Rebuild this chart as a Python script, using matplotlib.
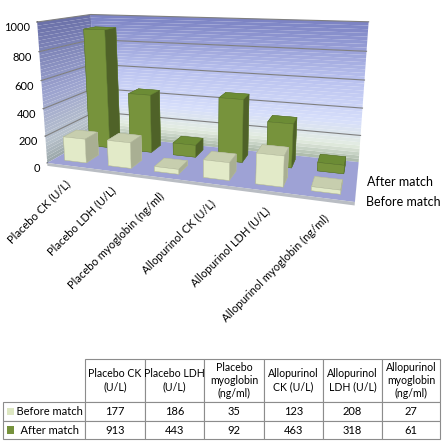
import numpy as np
import matplotlib.pyplot as plt
from matplotlib.colors import LinearSegmentedColormap
from mpl_toolkits.mplot3d.art3d import Poly3DCollection

plt.rcParams['font.family'] = ['Lato', 'DejaVu Sans']

# Data
categories = ["Placebo CK (U/L)", "Placebo LDH (U/L)", "Placebo myoglobin (ng/ml)",
              "Allopurinol CK (U/L)", "Allopurinol LDH (U/L)", "Allopurinol myoglobin (ng/ml)"]
table_headers = ["Placebo CK\n(U/L)", "Placebo LDH\n(U/L)", "Placebo\nmyoglobin\n(ng/ml)",
                 "Allopurinol\nCK (U/L)", "Allopurinol\nLDH (U/L)", "Allopurinol\nmyoglobin\n(ng/ml)"]
series_names = ["Before match", "After match"]
before_match = [177, 186, 35, 123, 208, 27]
after_match = [913, 443, 92, 463, 318, 61]
z_ticks = [0, 200, 400, 600, 800, 1000]

# face colours: bottom, top, front, back, left, right
before_faces = ['#C9D0B0', '#C7CEAE', '#E2EAC8', '#E2EAC8', '#E2EAC8', '#A9AF93']
after_faces = ['#5E7A2E', '#6C8C35', '#77933C', '#77933C', '#77933C', '#4F6228']
before_color = '#DDE7C2'
after_color = '#76923C'

fig = plt.figure(figsize=(4.45, 4.45), dpi=100)

# ---- 3D chart ----
ax = fig.add_axes([0.016, 0.377, 0.86, 0.8], projection='3d')
ax.set_proj_type('persp', focal_length=0.27)
ax.view_init(elev=13, azim=-72)
ax.computed_zorder = False

n = len(categories)
x0, x1 = -0.5, n - 0.5
y0, y1 = -0.5, 1.5
z0, z1 = 0, 1000
ax.set_xlim(x0, x1)
ax.set_ylim(y0, y1)
ax.set_zlim(z0, z1)
ax.set_box_aspect((3.0, 1.0, 1.42), zoom=0.96)

# hide default panes / grid / axis lines / tick marks
for a in (ax.xaxis, ax.yaxis, ax.zaxis):
    a.set_pane_color((1, 1, 1, 0))
    a.line.set_color((0, 0, 0, 0))
    a._axinfo['tick']['inward_factor'] = 0
    a._axinfo['tick']['outward_factor'] = 0
    a._axinfo['tick']['color'] = '#8C8C8C'
ax.zaxis._axinfo['tick']['outward_factor'] = 0.12
ax.grid(False)
ax.zaxis.set_ticks_position('lower')

# back wall and side wall with vertical gradient
wall_cmap = LinearSegmentedColormap.from_list(
    'wall', [(0.0, '#A9B8A8'), (0.12, '#E3ECE0'), (0.3, '#D6DEFB'),
             (0.6, '#B9C1EE'), (1.0, '#7B82C3')])
side_cmap = LinearSegmentedColormap.from_list(
    'side', [(0.0, '#9AA6A8'), (0.15, '#B8C2CC'), (0.5, '#9CA3CF'), (1.0, '#6A70A8')])
levels = np.linspace(z0, z1, 41)
back_polys, back_cols, side_polys, side_cols = [], [], [], []
for lo, hi in zip(levels[:-1], levels[1:]):
    t = (lo + hi) / 2 / z1
    back_polys.append([(x0, y1, lo), (x1, y1, lo), (x1, y1, hi), (x0, y1, hi)])
    back_cols.append(wall_cmap(t))
    side_polys.append([(x0, y0, lo), (x0, y1, lo), (x0, y1, hi), (x0, y0, hi)])
    side_cols.append(side_cmap(t))
ax.add_collection3d(Poly3DCollection(back_polys, facecolors=back_cols,
                                     edgecolors='none', zorder=0))
ax.add_collection3d(Poly3DCollection(side_polys, facecolors=side_cols,
                                     edgecolors='none', zorder=0))

# gridlines on walls
for zt in z_ticks[1:]:
    ax.plot([x0, x0, x1], [y0, y1, y1], [zt, zt, zt], color='#7F7F7F', lw=0.8, zorder=1)

# floor (thin slab)
slab_h = -22
floor = [[(x0, y0, 0), (x1, y0, 0), (x1, y1, 0), (x0, y1, 0)]]
ax.add_collection3d(Poly3DCollection(floor, facecolors='#9EA2D5', edgecolors='none', zorder=2))
front_edge = [[(x0, y0, 0), (x1, y0, 0), (x1, y0, slab_h), (x0, y0, slab_h)]]
right_edge = [[(x1, y0, 0), (x1, y1, 0), (x1, y1, slab_h), (x1, y0, slab_h)]]
ax.add_collection3d(Poly3DCollection(front_edge, facecolors='#B9BDC3', edgecolors='none', zorder=2))
ax.add_collection3d(Poly3DCollection(right_edge, facecolors='#A8ACB3', edgecolors='none', zorder=2))

# bars
xs = np.arange(n)
w = 0.5
ax.bar3d(xs - w / 2, np.full(n, 1) - w / 2, np.zeros(n), w, w, after_match,
         color=after_faces * n, shade=False, edgecolor='#5A7430', linewidth=0.3, zorder=3)
ax.bar3d(xs - w / 2, np.full(n, 0) - w / 2, np.zeros(n), w, w, before_match,
         color=before_faces * n, shade=False, edgecolor='#B0B69A', linewidth=0.3, zorder=4)

# ticks and labels
ax.set_xticks(xs)
ax.set_xticklabels(categories, rotation=45, ha='right', va='top',
                   rotation_mode='anchor', fontsize=8)
ax.set_yticks([0, 1])
ax.set_yticklabels(series_names, fontsize=9, ha='left')
ax.set_zticks(z_ticks)
ax.set_zticklabels([str(v) for v in z_ticks], fontsize=8, ha='right')
ax.tick_params(axis='x', pad=2)
ax.tick_params(axis='y', pad=-4)
ax.tick_params(axis='z', pad=-5)

# ---- data table ----
tax = fig.add_axes([3 / 445, 1 - 439 / 445, 437 / 445, 80 / 445])
tax.axis('off')
cell_text = [[''] + table_headers,
             ['    ' + series_names[0]] + [str(v) for v in before_match],
             ['    ' + series_names[1]] + [str(v) for v in after_match]]
col_w = np.array([82, 60, 59, 60, 59, 59, 58], dtype=float)
tbl = tax.table(cellText=cell_text, colWidths=list(col_w / col_w.sum()),
                cellLoc='center', bbox=[0, 0, 1, 1])
tbl.auto_set_font_size(False)
row_h = [43, 19, 18]
for (r, c), cell in tbl.get_celld().items():
    cell.set_edgecolor('#8C8C8C')
    cell.set_linewidth(0.8)
    cell.set_height(row_h[r] / 80)
    if r == 0:
        cell.get_text().set_fontsize(7.6)
        cell.get_text().set_linespacing(1.25)
    else:
        cell.get_text().set_fontsize(8.0)
    if r == 0 and c == 0:
        cell.visible_edges = ''
    if c == 0 and r > 0:
        cell._loc = 'left'
        cell.PAD = 0.01

# legend keys in row label cells
key_colors = [before_color, after_color]
for r in (1, 2):
    y_top = 1 - sum(row_h[:r]) / 80
    y_mid = y_top - row_h[r] / 80 / 2
    tax.add_patch(plt.Rectangle((0.009, y_mid - 0.045), 0.016, 0.09,
                                transform=tax.transAxes, facecolor=key_colors[r - 1],
                                edgecolor='none', zorder=5))

fig.savefig('out.png', dpi=100)
